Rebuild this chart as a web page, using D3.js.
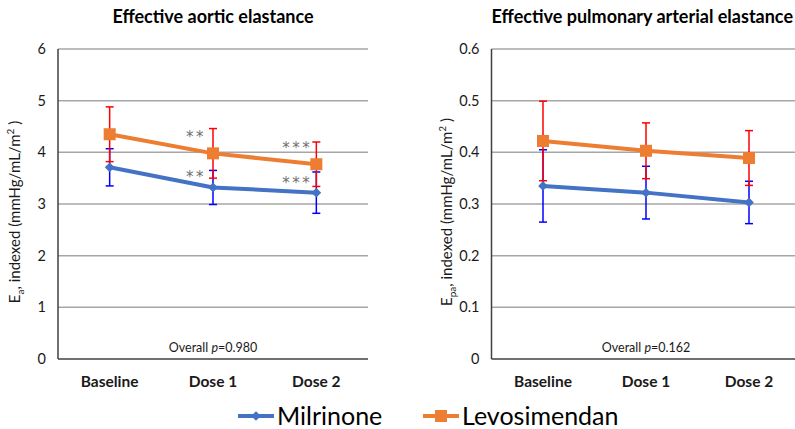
<!DOCTYPE html>
<html><head><meta charset="utf-8">
<script src="https://cdn.jsdelivr.net/npm/d3@7"></script>
<style>body{margin:0;background:#fff;} svg{display:block;font-family:Lato,"Open Sans",sans-serif;}</style>
</head><body>
<svg id="c" width="795" height="429"></svg>
<script>
const categories = ["Baseline","Dose 1","Dose 2"];
const seriesNames = ["Milrinone","Levosimendan"];
// Effective aortic elastance
const eaMilrinone = [3.71, 3.32, 3.22];
const eaMilrinoneErr = [0.36, 0.33, 0.40];
const eaLevo = [4.35, 3.98, 3.77];
const eaLevoErr = [0.53, 0.48, 0.43];
const eaTicks = [0,1,2,3,4,5,6];
const eaStars = [["", "**", "***"], ["", "**", "***"]]; // [milrinone, levo]
// Effective pulmonary arterial elastance
const epaMilrinone = [0.335, 0.322, 0.303];
const epaMilrinoneErr = [0.070, 0.051, 0.041];
const epaLevo = [0.422, 0.403, 0.389];
const epaLevoErr = [0.077, 0.054, 0.053];
const epaTicks = [0,0.1,0.2,0.3,0.4,0.5,0.6];
const pTexts = ["0.980","0.162"];

const svg = d3.select("#c");
const lineCol = ["#4472C4","#ED7D31"];
const errCol = ["#0000FF","#FF0000"];

function panel(opt){
  const g = svg.append("g");
  const x = d3.scaleBand().domain(categories).range([opt.x0, opt.x1]);
  const y = d3.scaleLinear().domain([0, opt.max]).range([359, 49]);
  g.selectAll(".grid").data(opt.ticks.slice(1)).enter().append("line")
    .attr("x1", opt.x0).attr("x2", opt.x1).attr("y1", d=>y(d)).attr("y2", d=>y(d))
    .attr("stroke","#A6A6A6").attr("stroke-width",1.5);
  g.append("line").attr("x1",opt.x0).attr("x2",opt.x0).attr("y1",y(opt.max)).attr("y2",y(0)).attr("stroke","#404040").attr("stroke-width",1.5);
  g.append("line").attr("x1",opt.x0).attr("x2",opt.x1).attr("y1",y(0)).attr("y2",y(0)).attr("stroke","#404040").attr("stroke-width",1.5);
  g.selectAll(".yt").data(opt.ticks).enter().append("text")
    .attr("x", opt.x0-12).attr("y", d=>y(d)+5).attr("text-anchor","end")
    .attr("font-size",14.5).attr("fill","#1a1a1a").text(d=>opt.fmt(d));
  g.selectAll(".xt").data(categories).enter().append("text")
    .attr("x", d=>x(d)+x.bandwidth()/2).attr("y", 387).attr("text-anchor","middle")
    .attr("font-size",15.5).attr("font-weight","bold").attr("fill","#1a1a1a").text(d=>d);
  g.append("text").attr("x", opt.titleX).attr("y", 23).attr("text-anchor",opt.titleAnchor)
    .attr("font-size",18).attr("font-weight","bold").attr("fill","#000").text(opt.title);
  const yt = g.append("text").attr("transform",`translate(${opt.ytx},212) rotate(-90)`)
    .attr("text-anchor","middle").attr("font-size",15).attr("fill","#1a1a1a");
  yt.append("tspan").text("E");
  yt.append("tspan").attr("font-size",10).attr("dy",4).text(opt.sub);
  yt.append("tspan").attr("dy",-4).text(", indexed (mmHg/mL/m");
  yt.append("tspan").attr("font-size",10).attr("dy",-6).text("2");
  yt.append("tspan").attr("dy",6).text(" )");
  const pt = g.append("text").attr("x", (opt.x0+opt.x1)/2).attr("y", 352).attr("text-anchor","middle")
    .attr("font-size",12.5).attr("fill","#1a1a1a");
  pt.append("tspan").text("Overall ");
  pt.append("tspan").attr("font-style","italic").text("p");
  pt.append("tspan").text("="+opt.p);

  const cx = d => x(d)+x.bandwidth()/2;
  const line = d3.line().x((d,i)=>cx(categories[i])).y(d=>y(d));
  opt.series.forEach((s,k)=>{
    g.append("path").datum(s.vals).attr("d",line).attr("fill","none")
      .attr("stroke",lineCol[k]).attr("stroke-width",4).attr("stroke-linejoin","round");
  });
  opt.series.forEach((s,k)=>{
    s.vals.forEach((v,i)=>{
      const xx = cx(categories[i]);
      const e = s.err[i];
      g.append("line").attr("x1",xx).attr("x2",xx).attr("y1",y(v-e)).attr("y2",y(v+e)).attr("stroke",errCol[k]).attr("stroke-width",1.5);
      [v-e, v+e].forEach(t=>g.append("line").attr("x1",xx-4).attr("x2",xx+4).attr("y1",y(t)).attr("y2",y(t)).attr("stroke",errCol[k]).attr("stroke-width",1.5));
    });
  });
  opt.series.forEach((s,k)=>{
    s.vals.forEach((v,i)=>{
      const xx = cx(categories[i]);
      if(k===0){
        g.append("path").attr("d", d3.symbol(d3.symbolDiamond2, 60)()).attr("transform",`translate(${xx},${y(v)})`).attr("fill",lineCol[k]);
      } else {
        g.append("rect").attr("x",xx-6).attr("y",y(v)-6).attr("width",12).attr("height",12).attr("fill",lineCol[k]);
      }
    });
  });
  if(opt.stars){
    const above = [14, 20];
    opt.stars.forEach((arr,k)=>{
      arr.forEach((st,i)=>{
        if(!st) return;
        const s = opt.series[k];
        const cyy = y(s.vals[i]) - above[k];
        g.append("text").attr("x", cx(categories[i]) - (st.length===2?7:4)).attr("y", cyy + 9).attr("text-anchor","end")
          .attr("font-family","'DejaVu Sans'").attr("font-size",15).attr("letter-spacing",2.5).attr("fill","#6f6f6f").text(st);
      });
    });
  }
}

panel({x0:58, x1:368, max:6, ticks:eaTicks, fmt:d=>d3.format("d")(d), title:"Effective aortic elastance",
  titleX:213, titleAnchor:"middle",
  ytx:20, sub:"a", p:pTexts[0],
  series:[{vals:eaMilrinone, err:eaMilrinoneErr},{vals:eaLevo, err:eaLevoErr}], stars:eaStars});
panel({x0:491.5, x1:800.5, max:0.6, ticks:epaTicks, fmt:d=>d===0?"0":d3.format(".1f")(d), title:"Effective pulmonary arterial elastance",
  titleX:793, titleAnchor:"end",
  ytx:452, sub:"pa", p:pTexts[1],
  series:[{vals:epaMilrinone, err:epaMilrinoneErr},{vals:epaLevo, err:epaLevoErr}]});

const lg = svg.append("g");
const lx = [238, 423];
seriesNames.forEach((n,k)=>{
  lg.append("line").attr("x1",lx[k]).attr("x2",lx[k]+36).attr("y1",416).attr("y2",416).attr("stroke",lineCol[k]).attr("stroke-width",4);
  if(k===0) lg.append("path").attr("d", d3.symbol(d3.symbolDiamond2, 60)()).attr("transform",`translate(${lx[k]+18},416)`).attr("fill",lineCol[k]);
  else lg.append("rect").attr("x",lx[k]+12).attr("y",410).attr("width",12).attr("height",12).attr("fill",lineCol[k]);
  lg.append("text").attr("x",lx[k]+39).attr("y",425).attr("font-size",25).attr("fill","#000").text(n);
});
</script>
</body></html>
